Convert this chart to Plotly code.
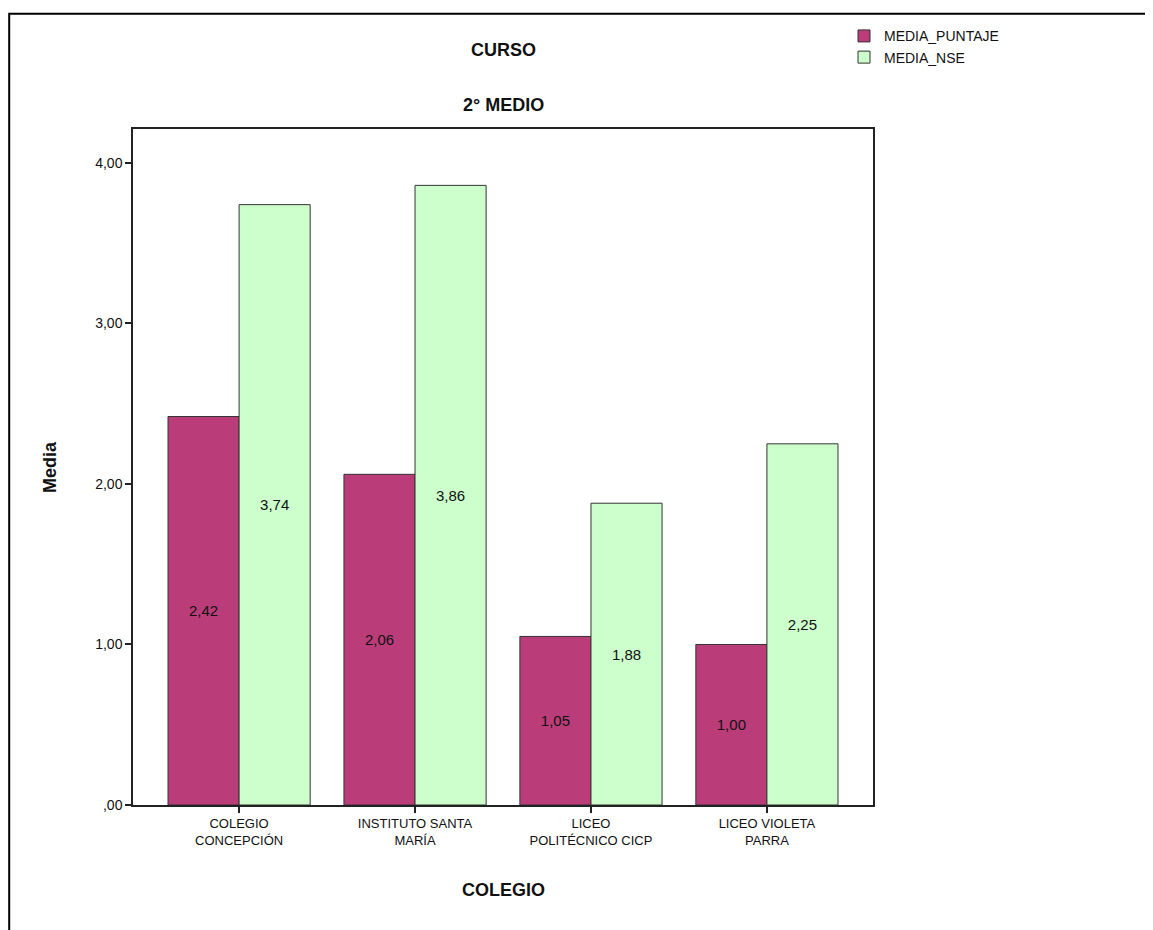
import plotly.graph_objects as go

categories = ["COLEGIO<br>CONCEPCIÓN", "INSTITUTO SANTA<br>MARÍA", "LICEO<br>POLITÉCNICO CICP", "LICEO VIOLETA<br>PARRA"]
media_puntaje = [2.42, 2.06, 1.05, 1.00]
media_nse = [3.74, 3.86, 1.88, 2.25]
y_ticks = [0, 1, 2, 3, 4]
y_ticktext = [",00", "1,00", "2,00", "3,00", "4,00"]

FONT = "Arial, Liberation Sans, sans-serif"
OFF = 8  # page body margin
W, H = 1153 - 2 * OFF, 930 - OFF
L, R, T, B = 133 - OFF, 873 - OFF, 127 - OFF, 805 - OFF
pw, ph = R - L, B - T

def px(x):
    return (x - OFF - L) / pw

def py(y):
    return (B - (y - OFF)) / ph

fig = go.Figure()
fig.add_trace(go.Bar(
    x=categories, y=media_puntaje, name="MEDIA_PUNTAJE",
    marker=dict(color="#BA3D7A", line=dict(color="#333333", width=1)),
    texttemplate="%{y:.2f}", textposition="inside", insidetextanchor="middle",
    textangle=0, textfont=dict(family=FONT, size=15, color="#111111"),
))
fig.add_trace(go.Bar(
    x=categories, y=media_nse, name="MEDIA_NSE",
    marker=dict(color="#CCFFCC", line=dict(color="#333333", width=1)),
    texttemplate="%{y:.2f}", textposition="inside", insidetextanchor="middle",
    textangle=0, textfont=dict(family=FONT, size=15, color="#111111"),
))

fig.update_layout(
    width=W, height=H,
    margin=dict(l=L, r=W - R, t=T, b=H - B),
    paper_bgcolor="white", plot_bgcolor="white",
    barmode="group", bargap=0.192, bargroupgap=0,
    separators=",.",
    font=dict(family=FONT, size=13, color="#111111"),
    legend=dict(
        x=px(844), y=py(18), xanchor="left", yanchor="top",
        bgcolor="rgba(0,0,0,0)", font=dict(family=FONT, size=14, color="#111111"),
        itemwidth=30, tracegroupgap=0, traceorder="normal",
    ),
    showlegend=True,
)

fig.update_xaxes(
    range=[-0.603, 3.603], showgrid=False, showline=True, linecolor="#222222", linewidth=1.5,
    mirror=True, ticks="outside", ticklen=6, tickcolor="#222222", tickwidth=1.5,
    tickfont=dict(family=FONT, size=13, color="#111111"),
)
fig.update_yaxes(
    range=[0, (805 - 127) / 161.0], showgrid=False, showline=True, linecolor="#222222", linewidth=1.5,
    mirror=True, ticks="outside", ticklen=6, tickcolor="#222222", tickwidth=1.5,
    tickvals=y_ticks, ticktext=y_ticktext, zeroline=False,
    tickfont=dict(family=FONT, size=14, color="#111111"),
)

fig.add_annotation(text="<b>CURSO</b>", xref="paper", yref="paper", x=0.5, y=py(48),
                   xanchor="center", yanchor="middle", showarrow=False,
                   font=dict(family=FONT, size=18, color="#111111"))
fig.add_annotation(text="<b>2° MEDIO</b>", xref="paper", yref="paper", x=0.5, y=py(103),
                   xanchor="center", yanchor="middle", showarrow=False,
                   font=dict(family=FONT, size=18, color="#111111"))
fig.add_annotation(text="<b>Media</b>", xref="paper", yref="paper", x=px(50), y=py(466),
                   xanchor="center", yanchor="middle", showarrow=False, textangle=-90,
                   font=dict(family=FONT, size=18, color="#111111"))
fig.add_annotation(text="<b>COLEGIO</b>", xref="paper", yref="paper", x=0.5, y=py(890),
                   xanchor="center", yanchor="middle", showarrow=False,
                   font=dict(family=FONT, size=18, color="#111111"))

fig.add_shape(type="rect", xref="paper", yref="paper",
              x0=px(9.2), y0=py(1000), x1=px(1200), y1=py(11.5),
              line=dict(color="black", width=2), fillcolor="rgba(0,0,0,0)", layer="below")

fig.write_html("out.html")
